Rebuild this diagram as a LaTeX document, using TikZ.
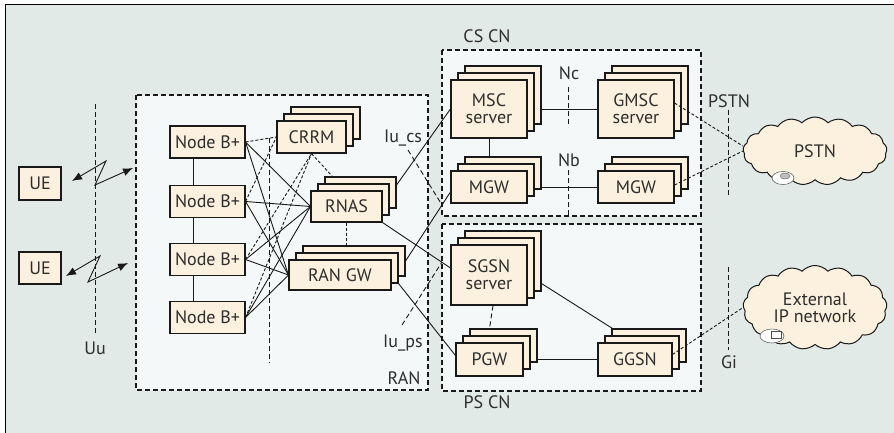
\documentclass[tikz,border=0pt]{standalone}
\usepackage{fontspec}
\setmainfont{PT Sans}
\usetikzlibrary{shapes.symbols,arrows.meta}
\definecolor{bgout}{RGB}{225,234,231}
\definecolor{bgin}{RGB}{244,248,249}
\definecolor{nfill}{RGB}{252,241,222}
\definecolor{txt}{RGB}{45,45,45}
\tikzset{
 nbox/.style={draw=black!90, line width=1.1pt, fill=nfill, inner sep=0pt, text=txt, font=\fontsize{18}{17}\selectfont, align=center},
 region/.style={draw=black!90, line width=1.1pt, dash pattern=on 5pt off 3pt, fill=bgin},
 iface/.style={draw=black!90, line width=0.9pt, dash pattern=on 5pt off 3pt},
 link/.style={draw=black!90, line width=0.9pt},
 dlink/.style={draw=black!90, line width=0.9pt, dash pattern=on 3pt off 2pt},
 lbl/.style={text=txt, font=\fontsize{18}{17}\selectfont, inner sep=0pt, align=center},
 cloudbox/.style={cloud, cloud puffs=17, cloud puff arc=95, cloud ignores aspect, draw=black!90, line width=1pt, fill=nfill, inner sep=0pt, text=txt, font=\fontsize{18}{17}\selectfont, align=center},
 bolt/.style={draw=black!90, line width=0.9pt, {Latex[length=10pt,width=8pt]}-{Latex[length=10pt,width=8pt]}},
}
\newcommand\stk[6]{%
 \node[nbox, minimum width=#4pt, minimum height=#5pt] (#1c) at (#2+14,#3-14) {};
 \node[nbox, minimum width=#4pt, minimum height=#5pt] (#1b) at (#2+7,#3-7) {};
 \node[nbox, minimum width=#4pt, minimum height=#5pt] (#1) at (#2,#3) {#6};
}
\begin{document}
\begin{tikzpicture}[x=1pt,y=-1pt]
\path[use as bounding box] (0,0) rectangle (894,433);
\clip (0,0) rectangle (894,433);
\filldraw[fill=bgout, draw=black, line width=1.2pt] (5.5,4.5) rectangle (900,440);

% regions
\draw[region] (136,95) rectangle (428,390);
\draw[region] (442,50) rectangle (701,216);
\draw[region] (442,224) rectangle (701,391);

% labels
\node[lbl] (lcs) at (487,36) {CS CN};
\node[lbl] (lps) at (487,402) {PS CN};
\node[lbl] (lran) at (404,378) {RAN};
\node[lbl] (luu) at (95,348) {Uu};
\node[lbl] (liucs) at (403,138) {Iu\_cs};
\node[lbl] (liups) at (403,343) {Iu\_ps};
\node[lbl] (lnc) at (569,73) {Nc};
\node[lbl] (lnb) at (569,160) {Nb};
\node[lbl] (lpstn) at (729,101) {PSTN};
\node[lbl] (lgi) at (729,362) {Gi};

% interface lines
\coordinate (uut) at (95,104); \coordinate (uub) at (95,334);
\draw[iface] (uut) -- (uub);
\coordinate (rit) at (269,138); \coordinate (rib) at (269,363);
\draw[iface] (rit) -- (rib);
\coordinate (nct) at (568,87); \coordinate (ncb) at (568,127);
\draw[iface] (nct) -- (ncb);
\coordinate (nbt) at (568,170); \coordinate (nbb) at (568,216);
\draw[iface] (nbt) -- (nbb);
\coordinate (pst) at (728,110); \coordinate (psb) at (728,195);
\draw[iface] (pst) -- (psb);
\coordinate (git) at (728,267); \coordinate (gib) at (728,350);
\draw[iface] (git) -- (gib);

% UE
\node[nbox, minimum width=42pt, minimum height=33pt] (ue1) at (40,183.5) {UE};
\node[nbox, minimum width=42pt, minimum height=32pt] (ue2) at (40,268) {UE};

% Node B+
\foreach \i/\y in {1/142,2/201.5,3/259.5,4/317.5}{
 \node[nbox, minimum width=75pt, minimum height=32pt] (nb\i) at (207.5,\y) {Node B+};
}
\draw[link] ([xshift=-14.5pt]nb1.south) -- ([xshift=-14.5pt]nb2.north);
\draw[link] ([xshift=-14.5pt]nb2.south) -- ([xshift=-14.5pt]nb3.north);
\draw[link] ([xshift=-14.5pt]nb3.south) -- ([xshift=-14.5pt]nb4.north);

% RAN stacks
\stk{crrm}{311.5}{137}{69}{32}{CRRM}
\stk{rnas}{346.5}{206.5}{71}{31}{RNAS}
\stk{rangw}{340}{275}{102}{30}{RAN GW}

% mesh
\draw[dlink] (nb1.east) -- (crrm.west);
\draw[dlink] (nb2.east) -- (crrm.west);
\draw[dlink] (nb3.east) -- (crrm.south);
\draw[dlink] (nb4.east) -- (crrm.south);
\foreach \i in {1,2,3,4}{
 \draw[link] (nb\i.east) -- (rnas.west);
 \draw[link] (nb\i.east) -- (rangw.west);
}
\draw[dlink] (crrm.south) -- ([xshift=8pt]rnasc.north west);
\draw[dlink] (rnas.south) -- (rangwc.north -| rnas.south);

% core stacks
\stk{msc}{489}{109}{76}{58}{MSC\\server}
\stk{gmsc}{636}{109}{76}{58}{GMSC\\server}
\stk{mgwa}{489}{187}{76}{32}{MGW}
\stk{mgwb}{636}{187}{76}{32}{MGW}
\stk{sgsn}{489}{275}{76}{60}{SGSN\\server}
\stk{pgw}{489.5}{359.5}{67}{33}{PGW}
\stk{ggsn}{635}{359.5}{74}{33}{GGSN}

\draw[link] (msc.south) -- (mgwac.north -| msc.south);
\draw[link] (mscc.east |- msc.center) -- (gmsc.west);
\draw[link] (mgwac.east |- mgwa.center) -- (mgwb.west);
\draw[iface] ([xshift=4pt]sgsn.south) -- (pgwc.north -| pgw.north);
\draw[link] ([yshift=8pt]sgsnc.south east) -- ([xshift=1pt]ggsnc.north west);
\draw[link] (pgwc.east |- pgw.center) -- (ggsn.west);

% clouds
\node[cloudbox, minimum width=144pt, minimum height=68pt] (pstn) at (815,151) {PSTN};
\node[cloudbox, minimum width=144pt, minimum height=84pt,
      label={[lbl]center:External\\IP network}] (ipn) at (815,307.5) {};
\filldraw[fill=white, draw=black!70, line width=0.5pt] (783,178) ellipse (11pt and 6.5pt);
\filldraw[fill=black!25, draw=black!60, line width=0.4pt] (785,176) ellipse (5pt and 3pt);
\filldraw[fill=white, draw=black!70, line width=0.5pt] (772,336) ellipse (12pt and 7pt);
\filldraw[fill=white, draw=black!70, line width=0.5pt] (771,331) rectangle (781,338);

\draw[dlink] ([yshift=6pt]gmsc.east) -- ([yshift=5pt]pstn.west);
\draw[dlink] ([yshift=2pt]mgwb.east) -- (pstn.west);
\draw[dlink] ([yshift=5pt]ggsn.east) -- (ipn.west);

% Iu connections
\draw[link] ([yshift=7.5pt]rnasc.east) -- (msc.west);
\draw[link] (rangwc.east) -- ([yshift=-5pt]mgwa.west);
\draw[link] (rnas.south east) -- ([yshift=7pt]sgsn.west);
\draw[link] (rangwb.south east) -- ([yshift=4pt]pgw.west);
\coordinate (iucs1) at (408,150); \coordinate (iucs2) at (442,205);
\draw[iface] (iucs1) -- (iucs2);
\coordinate (iups1) at (402,325); \coordinate (iups2) at (442,262);
\draw[iface] (iups1) -- (iups2);

% radio bolts
\coordinate (z1a) at (72,181); \coordinate (z1b) at (106,161);
\coordinate (z1c) at (95,185); \coordinate (z1d) at (133,168);
\draw[bolt] (z1a) -- (z1b) -- (z1c) -- (z1d);
\coordinate (z2a) at (66,276); \coordinate (z2b) at (100,256);
\coordinate (z2c) at (88,282); \coordinate (z2d) at (128,263);
\draw[bolt] (z2a) -- (z2b) -- (z2c) -- (z2d);
\end{tikzpicture}
\end{document}
